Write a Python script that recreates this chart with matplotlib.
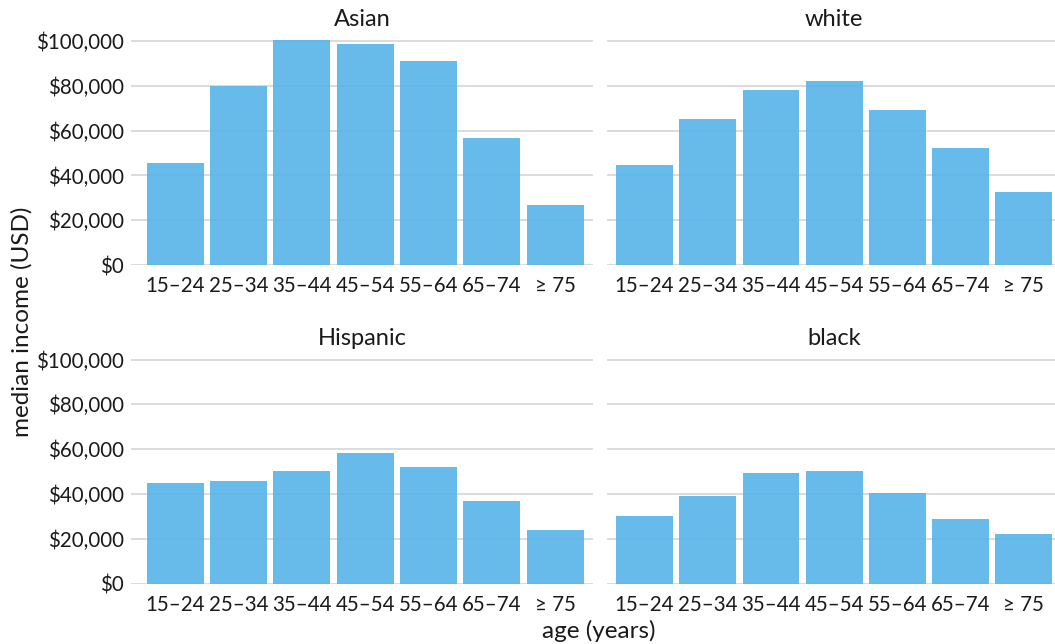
import numpy as np
import matplotlib
matplotlib.use("Agg")
import matplotlib.pyplot as plt
from matplotlib.ticker import FuncFormatter

plt.rcParams['font.family'] = ['Lato', 'DejaVu Sans']

# data (median income, USD)
age_groups = ["15–24", "25–34", "35–44", "45–54", "55–64", "65–74", "≥ 75"]
races = ["Asian", "white", "Hispanic", "black"]
asian = [45700, 80000, 100400, 98900, 91200, 56700, 26600]
white = [44600, 65400, 78000, 82200, 69400, 52400, 32400]
hispanic = [45000, 45900, 50200, 58200, 52000, 36800, 23900]
black = [30200, 39200, 49300, 50200, 40600, 28800, 22300]
income = [asian, white, hispanic, black]

W, H = 1055, 644
fig = plt.figure(figsize=(W / 100, H / 100), dpi=100)

bar_col = "#56B4E9"
grid_col = "#d9d9d9"

# panel boxes in pixels: (left, right, xlim-left)
cols = [(131, 593.3, -0.7), (606.7, 1061.7, -0.6)]
rows = [265, 583.5]   # y pixel of $0
ph = 226.2            # panel height in pixels

x = np.arange(len(age_groups))
money = FuncFormatter(lambda v, p: "${:,.0f}".format(v))

for i, (name, vals) in enumerate(zip(races, income)):
    r, c = divmod(i, 2)
    left, right, xl = cols[c]
    bottom = rows[r]
    ax = fig.add_axes([left / W, 1 - bottom / H, (right - left) / W, ph / H])
    ax.bar(x, vals, width=0.9, color=bar_col, alpha=0.9, zorder=2)
    ax.set_xlim(xl, 6.6)
    ax.set_ylim(0, 101000)
    ax.set_yticks([0, 20000, 40000, 60000, 80000, 100000])
    ax.yaxis.set_major_formatter(money)
    ax.set_xticks(x)
    ax.set_xticklabels(age_groups)
    ax.grid(axis="y", color=grid_col, lw=1.3, zorder=0)
    ax.set_axisbelow(True)
    for s in ax.spines.values():
        s.set_visible(False)
    ax.tick_params(length=0, labelsize=14.8, pad=8, colors="#1a1a1a")
    ax.tick_params(axis="y", pad=5)
    if c == 1:
        ax.tick_params(axis="y", labelleft=False)
    ax.set_title(name, fontsize=17, pad=9, color="#1a1a1a")

fig.text(22 / W, 1 - 322 / H, "median income (USD)", rotation=90,
         ha="center", va="center", fontsize=17.5, color="#1a1a1a")
fig.text(599 / W, 1 - 631 / H, "age (years)", ha="center", va="center",
         fontsize=17.5, color="#1a1a1a")

fig.savefig("out.png", dpi=100)
